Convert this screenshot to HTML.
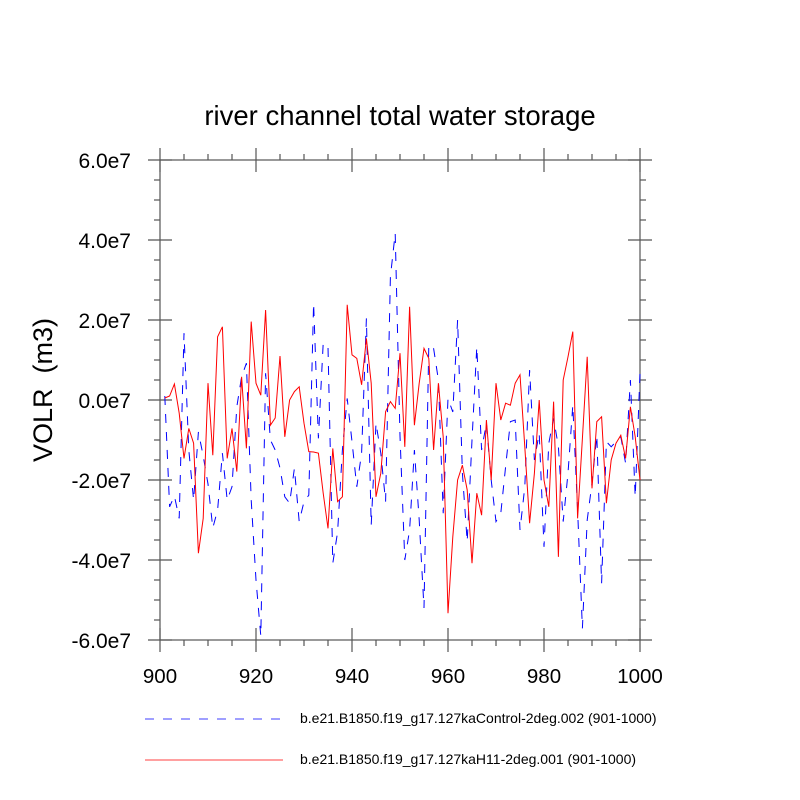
<!DOCTYPE html>
<html><head><meta charset="utf-8"><style>
html,body{margin:0;padding:0;background:#fff;}
svg{display:block;font-family:"Liberation Sans",Arial,sans-serif;}
</style></head><body>
<svg id="chart" width="800" height="800">
<text x="400" y="125" text-anchor="middle" font-size="27.5">river channel total water storage</text>
<text transform="translate(52,390) rotate(-90)" text-anchor="middle" font-size="27" style="white-space:pre">VOLR  (m3)</text>
<g id="axes"></g>
<g id="series"></g>
<g>
<line x1="145" y1="719" x2="280" y2="719" stroke="#0000ff" stroke-width="0.8" stroke-dasharray="9,9"/>
<text x="300" y="723" font-size="14">b.e21.B1850.f19_g17.127kaControl-2deg.002 (901-1000)</text>
<line x1="145" y1="760" x2="283" y2="760" stroke="#ff0000" stroke-width="0.8"/>
<text x="300" y="764" font-size="14">b.e21.B1850.f19_g17.127kaH11-2deg.001 (901-1000)</text>
</g>
</svg>
<script>
const years = Array.from({length:100},(_,i)=>901+i);
const controlVals = [0.1,-2.67,-2.4,-2.96,1.67,-1.25,-2.5,-0.8,-1.4,-2.1,-3.2,-2.75,-1.33,-2.5,-2.17,-0.17,0.58,0.92,-2.5,-4.5,
-5.9,0.67,-1.0,-1.25,-1.7,-2.42,-2.58,-1.71,-3.04,-2.54,-2.38,2.42,-0.96,1.42,1.33,-4.08,-3.3,-1.25,0.04,-1.04,
-2.17,-1.33,2.04,-3.13,-0.58,-1.33,-2.54,3.08,4.17,-0.9,-4.0,-3.25,-1.25,-3.0,-5.2,1.38,1.29,0.5,-2.83,0.04,
-0.3,2.0,-1.83,-3.54,-1.0,1.33,-1.25,-0.58,-2.0,-3.04,-2.83,-1.67,-0.54,-0.5,-3.25,-2.17,0.75,-1.5,-0.83,-3.67,
-1.08,-0.46,-1.17,-3.04,-1.83,-0.13,-2.75,-5.71,-3.0,-2.08,-0.88,-4.58,-1.04,-1.17,-1.04,-0.92,-1.58,0.5,-2.42,0.67];
const h11Vals = [0.05,0.1,0.4,-0.33,-1.46,-0.71,-1.08,-3.83,-2.96,0.42,-1.38,1.58,1.83,-1.46,-0.71,-1.79,0.58,-1.21,1.96,0.42,
0.12,2.25,-0.63,-0.45,1.1,-0.92,0,0.21,0.33,-0.58,-1.29,-1.3,-1.33,-2.33,-3.21,-1.21,-2.54,-2.42,2.38,1.13,
1.04,0.38,1.54,0.42,-2.42,-1.83,-0.29,-0.04,-0.21,1.17,-1.17,2.33,-0.63,0.42,1.29,1.04,-1.25,0.42,-0.92,-5.33,
-3.42,-2.0,-1.63,-2.25,-4.08,-2.33,-2.88,-0.5,-2.0,0.42,-0.5,-0.08,-0.13,0.42,0.63,-1.17,-3.08,-1.83,0,-2.0,
-2.67,-0.04,-3.92,0.5,1.08,1.71,-2.96,-0.96,1.08,-2.21,-0.54,-0.42,-2.58,-1.5,-1.08,-0.88,-1.46,-0.17,-0.92,-2.0];
const xTicks = [900,920,940,960,980,1000];
const yTicks = [-6,-4,-2,0,2,4,6];
const yTickLabels = ["-6.0e7","-4.0e7","-2.0e7","0.0e7","2.0e7","4.0e7","6.0e7"];

const L=160,R=640,T=160,B=640;
const xs=v=>L+(v-900)/100*(R-L);
const ys=v=>B-(v+6)/12*(B-T);
const NS="http://www.w3.org/2000/svg";
const AX='#555';
function mk(tag,attrs,parent){const e=document.createElementNS(NS,tag);for(const k in attrs)e.setAttribute(k,attrs[k]);parent.appendChild(e);return e;}
const ax=document.getElementById('axes');
const frame=mk('rect',{x:L,y:T,width:R-L,height:B-T,fill:'none',stroke:AX,'stroke-width':1.2},ax);


for(let v=900;v<=1000;v+=5){
  const major=(v%20===0);const x=xs(v);
  const inn=major?12:0, out=major?12:6;
  const t1=mk('line',{x1:x,y1:B+out,x2:x,y2:B-inn,stroke:AX,'stroke-width':1.2},ax);
  
  
  const t2=mk('line',{x1:x,y1:T-out,x2:x,y2:T+inn,stroke:AX,'stroke-width':1.2},ax);
  
  
}
xTicks.forEach(v=>{const t=mk('text',{x:xs(v),y:B+43,'text-anchor':'middle','font-size':20.5},ax);t.textContent=v;
  
  });
for(let v=-6;v<=6.001;v+=0.5){
  const major=(Math.abs(v%2)<0.01);const y=ys(v);
  const inn=major?12:0, out=major?12:6;
  const t1=mk('line',{x1:L-out,y1:y,x2:L+inn,y2:y,stroke:AX,'stroke-width':1.2},ax);
  
  
  const t2=mk('line',{x1:R+out,y1:y,x2:R-inn,y2:y,stroke:AX,'stroke-width':1.2},ax);
  
  
}
yTicks.forEach((v,i)=>{const t=mk('text',{x:L-29,y:ys(v)+8,'text-anchor':'end','font-size':21},ax);t.textContent=yTickLabels[i];
  
  });
const sg=document.getElementById('series');
function pts(arr){return arr.map((v,i)=>xs(years[i]).toFixed(1)+','+ys(v).toFixed(1)).join(' ');}
const pc=mk('polyline',{points:pts(controlVals),fill:'none',stroke:'#0000ff','stroke-width':1,'stroke-dasharray':'9,9'},sg);


const ph=mk('polyline',{points:pts(h11Vals),fill:'none',stroke:'#ff0000','stroke-width':1},sg);


</script>
</body></html>
